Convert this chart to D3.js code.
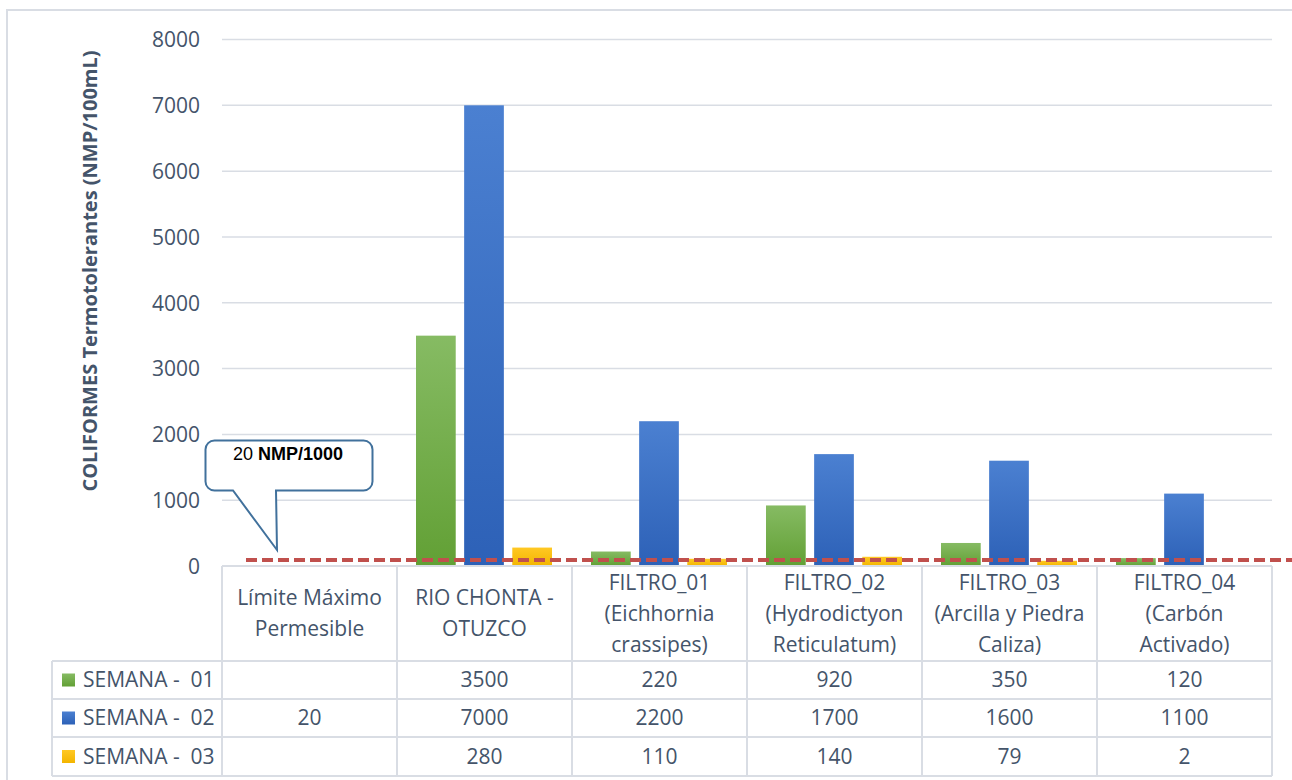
<!DOCTYPE html>
<html><head><meta charset="utf-8">
<script src="https://cdn.jsdelivr.net/npm/d3@7"></script>
<style>html,body{margin:0;padding:0;background:#fff;}svg{display:block;}</style>
</head><body>
<svg id="chart" width="1292" height="780"></svg>
<script>
// ---- data ----
const categoryLines = [
  ["Límite Máximo", "Permesible"],
  ["RIO CHONTA -", "OTUZCO"],
  ["FILTRO_01", "(Eichhornia", "crassipes)"],
  ["FILTRO_02", "(Hydrodictyon", "Reticulatum)"],
  ["FILTRO_03", "(Arcilla y Piedra", "Caliza)"],
  ["FILTRO_04", "(Carbón", "Activado)"]
];
const seriesNames = ["SEMANA -  01", "SEMANA -  02", "SEMANA -  03"];
const semana01 = [null, 3500, 220, 920, 350, 120];
const semana02 = [20, 7000, 2200, 1700, 1600, 1100];
const semana03 = [null, 280, 110, 140, 79, 2];
const yTicks = [0, 1000, 2000, 3000, 4000, 5000, 6000, 7000, 8000];
const limitLineValue = 90;   // dashed reference line as drawn in the picture
const calloutLabel = ["20 ", "NMP/1000"];
const yTitle = "COLIFORMES Termotolerantes (NMP/100mL)";

const series = [semana01, semana02, semana03];
const colors = [
  {top: "#86bb63", bottom: "#62a035"},
  {top: "#4b80d1", bottom: "#2d61b7"},
  {top: "#ffc824", bottom: "#f3b500"}
];
const textColor = "#44546a";
const gridColor = "#d9dde4";
const font = "'Open Sans', sans-serif";
const fs = 21;

const svg = d3.select("#chart");
const defs = svg.append("defs");
colors.forEach((c, i) => {
  const g = defs.append("linearGradient").attr("id", "grad" + i)
    .attr("x1", 0).attr("y1", 0).attr("x2", 0).attr("y2", 1);
  g.append("stop").attr("offset", "0%").attr("stop-color", c.top);
  g.append("stop").attr("offset", "100%").attr("stop-color", c.bottom);
});

// outer frame
svg.append("rect").attr("x", 7).attr("y", 10).attr("width", 1400).attr("height", 900)
  .attr("fill", "none").attr("stroke", gridColor).attr("stroke-width", 2);

const plotL = 222, plotR = 1272, plotT = 39.5, plotB = 566;
const y = d3.scaleLinear().domain([0, 8000]).range([plotB, plotT]);
const x0 = d3.scaleBand().domain(d3.range(categoryLines.length)).range([plotL, plotR]);
const x1 = d3.scaleBand().domain([0, 1, 2]).range([19, 155]).paddingInner(0.175);

// gridlines
svg.append("g").selectAll("line").data(yTicks.filter(t => t > 0)).join("line")
  .attr("x1", plotL).attr("x2", plotR)
  .attr("y1", d => y(d)).attr("y2", d => y(d))
  .attr("stroke", gridColor).attr("stroke-width", 1.5);

// y axis labels
const yAxis = d3.axisLeft(y).tickValues(yTicks).tickFormat(d3.format("d")).tickSize(0).tickPadding(0);
const yg = svg.append("g").attr("transform", "translate(200,0)").call(yAxis);
yg.select(".domain").remove();
yg.selectAll("text").attr("font-family", font).attr("font-size", fs)
  .attr("fill", textColor).attr("dy", "0.35em");

// y title
svg.append("text")
  .attr("transform", `translate(97,${(50 + 492) / 2}) rotate(-90)`)
  .attr("text-anchor", "middle")
  .attr("font-family", font).attr("font-weight", "bold").attr("font-size", 20)
  .attr("fill", textColor).text(yTitle);

// bars
series.forEach((vals, si) => {
  svg.append("g").selectAll("rect")
    .data(vals.map((v, i) => ({v, i})).filter(d => d.v != null && !(si === 1 && d.i === 0)))
    .join("rect")
    .attr("x", d => x0(d.i) + x1(si))
    .attr("width", x1.bandwidth())
    .attr("y", d => y(d.v))
    .attr("height", d => plotB - y(d.v))
    .attr("fill", `url(#grad${si})`);
});

// axis line (table top)
svg.append("line").attr("x1", plotL).attr("x2", plotR).attr("y1", plotB).attr("y2", plotB)
  .attr("stroke", gridColor).attr("stroke-width", 2);

// dashed limit line
svg.append("line").attr("x1", 246).attr("x2", 1292)
  .attr("y1", y(limitLineValue)).attr("y2", y(limitLineValue))
  .attr("stroke", "#c0504d").attr("stroke-width", 4).attr("stroke-dasharray", "11,5");

// callout
const cx0 = 205.5, cx1 = 372.5, cy0 = 440.5, cy1 = 490.5, r = 9;
const tipX = 277, tipY = 550, baseA = 233, baseB = 276;
const path = d3.path();
path.moveTo(cx0 + r, cy0);
path.lineTo(cx1 - r, cy0);
path.arcTo(cx1, cy0, cx1, cy0 + r, r);
path.lineTo(cx1, cy1 - r);
path.arcTo(cx1, cy1, cx1 - r, cy1, r);
path.lineTo(baseB, cy1);
path.lineTo(tipX, tipY);
path.lineTo(baseA, cy1);
path.lineTo(cx0 + r, cy1);
path.arcTo(cx0, cy1, cx0, cy1 - r, r);
path.lineTo(cx0, cy0 + r);
path.arcTo(cx0, cy0, cx0 + r, cy0, r);
path.closePath();
svg.append("path").attr("d", path.toString()).attr("fill", "#fff")
  .attr("stroke", "#41719c").attr("stroke-width", 2);
const ct = svg.append("text").attr("x", (cx0 + cx1) / 2 - 1).attr("y", 460)
  .attr("text-anchor", "middle").attr("font-family", "'Liberation Sans', Arial, sans-serif")
  .attr("font-size", 18).attr("fill", "#000");
ct.append("tspan").text(calloutLabel[0]);
ct.append("tspan").attr("font-weight", "bold").text(calloutLabel[1]);

// data table
const rowTops = [566, 661, 699, 737, 776];
const tableLeft = 52;
const tg = svg.append("g");
rowTops.slice(1).forEach(yy => {
  tg.append("line").attr("x1", tableLeft).attr("x2", plotR).attr("y1", yy).attr("y2", yy)
    .attr("stroke", gridColor).attr("stroke-width", 2);
});
const colEdges = d3.range(categoryLines.length + 1).map(i => i < categoryLines.length ? x0(i) : plotR);
colEdges.forEach(xx => {
  tg.append("line").attr("x1", xx).attr("x2", xx).attr("y1", plotB).attr("y2", 776)
    .attr("stroke", gridColor).attr("stroke-width", 2);
});
tg.append("line").attr("x1", tableLeft).attr("x2", tableLeft).attr("y1", 661).attr("y2", 776)
  .attr("stroke", gridColor).attr("stroke-width", 2);

// header text
categoryLines.forEach((lines, i) => {
  const cxm = x0(i) + x0.bandwidth() / 2;
  const mid = (566 + 661) / 2;
  const lh = 31;
  const t = tg.append("text").attr("text-anchor", "middle").attr("font-family", font)
    .attr("font-size", fs).attr("fill", textColor);
  lines.forEach((ln, k) => {
    t.append("tspan").attr("x", cxm)
      .attr("y", mid + (k - (lines.length - 1) / 2) * lh).attr("dy", "0.35em").text(ln);
  });
});
// rows
series.forEach((vals, si) => {
  const top = rowTops[si + 1], bot = rowTops[si + 2];
  const mid = (top + bot) / 2;
  tg.append("rect").attr("x", 62).attr("y", mid - 6.5).attr("width", 13).attr("height", 13)
    .attr("fill", `url(#grad${si})`);
  tg.append("text").attr("x", 83).attr("y", mid).attr("dy", "0.35em")
    .attr("font-family", font).attr("font-size", fs).attr("fill", textColor)
    .attr("xml:space", "preserve").style("white-space", "pre").text(seriesNames[si]);
  vals.forEach((v, i) => {
    if (v == null) return;
    tg.append("text").attr("x", x0(i) + x0.bandwidth() / 2).attr("y", mid).attr("dy", "0.35em")
      .attr("text-anchor", "middle").attr("font-family", font).attr("font-size", fs)
      .attr("fill", textColor).text(v);
  });
});
</script>
</body></html>
